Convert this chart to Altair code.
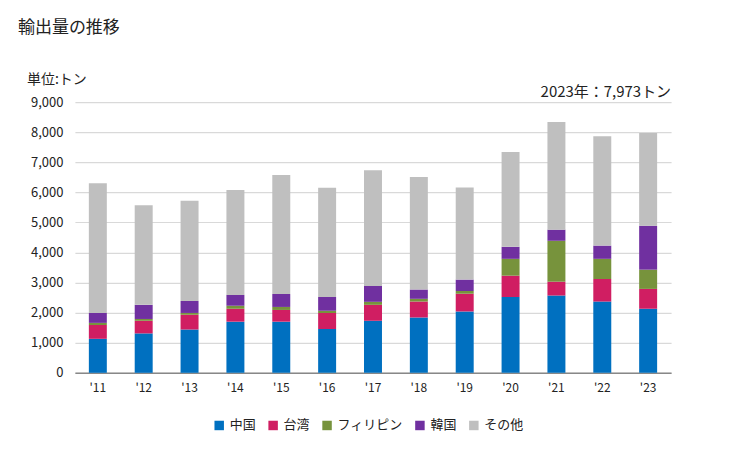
import altair as alt
import pandas as pd

years = ["'11", "'12", "'13", "'14", "'15", "'16", "'17", "'18", "'19", "'20", "'21", "'22", "'23"]
series = ["中国", "台湾", "フィリピン", "韓国", "その他"]
china = [1130, 1310, 1440, 1700, 1700, 1460, 1730, 1840, 2040, 2520, 2570, 2370, 2130]
taiwan = [460, 420, 490, 430, 390, 530, 530, 530, 590, 710, 460, 750, 660]
philippines = [70, 60, 60, 100, 100, 70, 100, 90, 90, 560, 1360, 670, 640]
korea = [330, 470, 400, 360, 430, 460, 530, 310, 380, 400, 370, 440, 1460]
others = [4310, 3310, 3330, 3490, 3960, 3630, 3850, 3740, 3060, 3150, 3580, 3640, 3083]
colors = ["#0070C0", "#D01E62", "#77933C", "#7030A0", "#BFBFBF"]

rows = []
for i, y in enumerate(years):
    for k, (name, vals) in enumerate(zip(series, [china, taiwan, philippines, korea, others])):
        rows.append({"year": y, "series": name, "value": vals[i], "order": k})
df = pd.DataFrame(rows)

FONT = "Noto Sans CJK JP"

bars = alt.Chart(df).mark_bar(size=18).encode(
    x=alt.X("year:N", sort=years, title=None,
            axis=alt.Axis(labelAngle=0, ticks=False, domainColor="#888888", domainWidth=1.5,
                          labelFontSize=12, labelColor="#222222", labelPadding=10, labelFont=FONT)),
    y=alt.Y("value:Q", stack="zero", title=None,
            scale=alt.Scale(domain=[0, 9000]),
            axis=alt.Axis(values=list(range(0, 9001, 1000)), format=",d", ticks=False, domain=False,
                          gridColor="#D9D9D9", gridWidth=1.2, labelFontSize=13, labelColor="#222222",
                          labelPadding=12, labelFont=FONT)),
    color=alt.Color("series:N", sort=series,
                    scale=alt.Scale(domain=series, range=colors),
                    legend=alt.Legend(title=None, orient="none", direction="horizontal",
                                      legendX=138, legendY=317, symbolType="square",
                                      symbolSize=90, labelFontSize=13, labelFont=FONT,
                                      labelColor="#222222", columnPadding=10, symbolStrokeWidth=0)),
    order=alt.Order("order:Q", sort="ascending"),
)

title = alt.Chart(pd.DataFrame({"t": ["輸出量の推移"]})).mark_text(
    align="left", baseline="middle", fontSize=17, font=FONT, color="#222222"
).encode(text="t:N", x=alt.value(-57), y=alt.value(-74))

unit = alt.Chart(pd.DataFrame({"t": ["単位:トン"]})).mark_text(
    align="left", baseline="middle", fontSize=14, font=FONT, color="#222222"
).encode(text="t:N", x=alt.value(-48), y=alt.value(-22))

note = alt.Chart(pd.DataFrame({"t": ["2023年：7,973トン"]})).mark_text(
    align="right", baseline="middle", fontSize=15, font=FONT, color="#222222"
).encode(text="t:N", x=alt.value(597), y=alt.value(-10))

chart = alt.layer(bars, title, unit, note).properties(
    width=597, height=271,
    autosize=alt.AutoSizeParams(type="none"),
    padding={"left": 67, "top": 94, "right": 50, "bottom": 70},
).configure_view(stroke=None)

chart.save("out.html", embed_options={"renderer": "svg", "actions": False})
